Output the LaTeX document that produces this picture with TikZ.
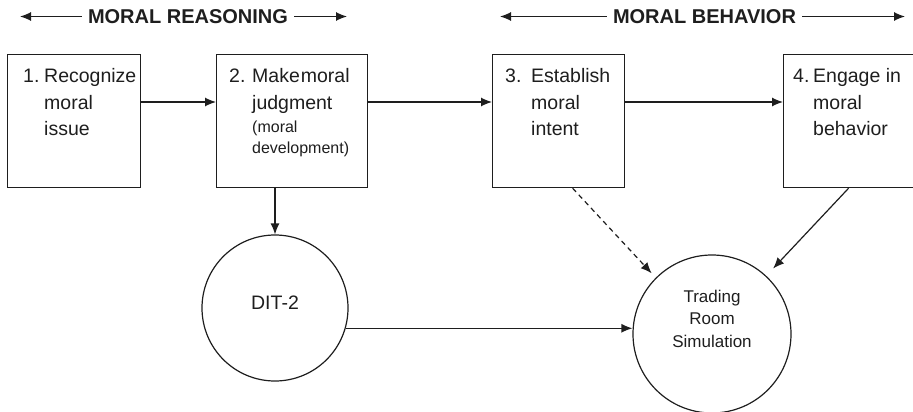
\documentclass[tikz,border=0pt]{standalone}
\usepackage{fontspec}
\setmainfont{Liberation Sans}
\usepackage{xcolor}
\usepackage{tikz}
\usetikzlibrary{arrows.meta,positioning,calc}
\definecolor{ink}{HTML}{1E1E1E}

\begin{document}
\begin{tikzpicture}[
    x=1pt, y=-1pt,
    stepbox/.style={rectangle, draw=ink, line width=1.2pt, anchor=north west, minimum height=133pt, inner sep=0pt},
    steptext/.style={anchor=base west, inner sep=0pt, text=ink, font=\fontsize{19.5}{27}\selectfont},
    stage/.style={circle, draw=ink, line width=1.2pt, inner sep=0pt, text=ink},
    head/.style={text=ink, font=\fontsize{20}{24}\selectfont\bfseries, inner sep=6pt},
    edge/.style={draw=ink, line width=1.2pt, -{Latex[length=11pt,width=9pt]}}
]
    \useasboundingbox (0,0) rectangle (913,412);

    % headings
    \node[head] (hr) at (188,16.5) {MORAL REASONING};
    \node[head] (hb) at (704.5,16.5) {MORAL BEHAVIOR};
    \coordinate (hrl) at (20,16.5);
    \coordinate (hrr) at (347,16.5);
    \coordinate (hbl) at (500,16.5);
    \coordinate (hbr) at (905,16.5);
    \draw[edge] (hr.west) -- (hrl);
    \draw[edge] (hr.east) -- (hrr);
    \draw[edge] (hb.west) -- (hbl);
    \draw[edge] (hb.east) -- (hbr);

    % the four steps
    \node[stepbox, minimum width=133pt] (b1) at (7,54) {};
    \node[stepbox, minimum width=151pt] (b2) at (216,54) {};
    \node[stepbox, minimum width=132pt] (b3) at (492,54) {};
    \node[stepbox, minimum width=142pt] (b4) at (783,54) {};

    \node[steptext] (t1) at (23,82) {\begin{tabular}[t]{@{}p{21pt}@{}l@{}}
        1. & Recognize\\ & moral\\ & issue\end{tabular}};
    \node[steptext] (t2) at (229,82) {\begin{tabular}[t]{@{}p{23pt}@{}l@{}}
        2. & Make\kern1pt moral\\ & judgment\\[-3pt]
        & {\fontsize{16}{20}\selectfont (moral}\\[-7pt]
        & {\fontsize{16}{20}\selectfont development)}\end{tabular}};
    \node[steptext] (t3) at (505,82) {\begin{tabular}[t]{@{}p{26pt}@{}l@{}}
        3. & Establish\\ & moral\\ & intent\end{tabular}};
    \node[steptext] (t4) at (793,82) {\begin{tabular}[t]{@{}p{20pt}@{}l@{}}
        4. & Engage in\\ & moral\\ & behavior\end{tabular}};

    % measures
    \node[stage, minimum size=146pt, text depth=10pt, font=\fontsize{19.5}{24}\selectfont] (dit) at (275,308) {DIT-2};
    \node[stage, minimum size=158pt] (tr) at (712,334) {};
    \node[text=ink, align=center, font=\fontsize{17}{22.5}\selectfont] (trt) at (712,318.5) {Trading\\Room\\Simulation};

    \draw[edge] ([yshift=-48pt]b1.north east) -- ([yshift=-48pt]b2.north west);
    \draw[edge] ([yshift=-48pt]b2.north east) -- ([yshift=-48pt]b3.north west);
    \draw[edge] ([yshift=-48pt]b3.north east) -- ([yshift=-48pt]b4.north west);
    \draw[edge] (dit.north |- b2.south) -- (dit.north);
    \draw[edge] (dit.-16) -- (dit.-16 -| tr.west);
    \draw[edge, dash pattern=on 5pt off 4pt, shorten >=6pt] ([xshift=14pt]b3.south) -- (tr.135);
    \draw[edge, shorten >=10pt] ([xshift=-6pt]b4.south) -- (tr.47);
\end{tikzpicture}
\end{document}
